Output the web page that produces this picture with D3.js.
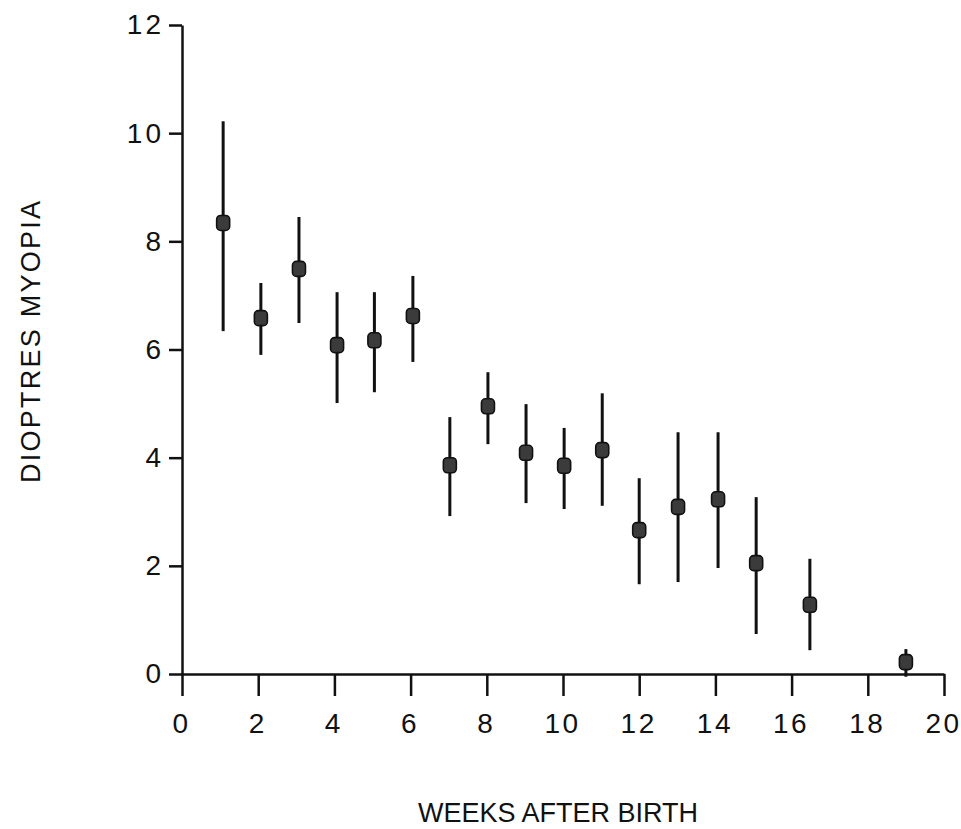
<!DOCTYPE html>
<html>
<head>
<meta charset="utf-8">
<script src="https://cdn.jsdelivr.net/npm/d3@7"></script>
<style>
  html, body { margin: 0; padding: 0; background: #fff; }
  svg { display: block; }
  .tick text { font-family: "Liberation Sans", Arial, Helvetica, sans-serif; fill: #111; }
</style>
</head>
<body>
<svg id="chart" width="961" height="829"></svg>
<script>
// Weeks after birth for each measurement
const weeks = [1.08, 2.07, 3.07, 4.07, 5.05, 6.06, 7.03, 8.03, 9.03, 10.03, 11.03, 12.0, 13.02, 14.07, 15.07, 16.48, 19.0];
// Mean dioptres of myopia
const means = [8.34, 6.58, 7.49, 6.08, 6.17, 6.62, 3.86, 4.95, 4.09, 3.85, 4.14, 2.66, 3.09, 3.23, 2.05, 1.28, 0.22];
// Upper and lower ends of the error bars
const upper = [10.22, 7.23, 8.45, 7.06, 7.06, 7.36, 4.75, 5.58, 4.99, 4.55, 5.19, 3.62, 4.47, 4.47, 3.27, 2.13, 0.46];
const lower = [6.34, 5.90, 6.49, 5.01, 5.21, 5.77, 2.92, 4.25, 3.16, 3.05, 3.11, 1.66, 1.70, 1.96, 0.74, 0.44, -0.05];
// Axis ticks
const xTicks = [0, 2, 4, 6, 8, 10, 12, 14, 16, 18, 20];
const yTicks = [0, 2, 4, 6, 8, 10, 12];

const svg = d3.select("#chart");
const ink = "#111";

const x = d3.scaleLinear().domain([0, 20]).range([182, 944]);
const y = d3.scaleLinear().domain([0, 12]).range([674, 25]);

// Y axis
const yAxis = svg.append("g")
  .attr("transform", `translate(${x(0)},0)`)
  .call(d3.axisLeft(y).tickValues(yTicks).tickSize(13).tickSizeOuter(0).tickPadding(5));
yAxis.selectAll("text").style("font-size", "28px").style("letter-spacing", "3px");

// X axis
const xAxis = svg.append("g")
  .attr("transform", `translate(0,${y(0)})`)
  .call(d3.axisBottom(x).tickValues(xTicks).tickSize(22).tickSizeOuter(0).tickPadding(17));
xAxis.selectAll("text").style("font-size", "28px").style("letter-spacing", "2.5px").attr("dx", "-1px");

svg.selectAll(".domain, .tick line").attr("stroke", ink).attr("stroke-width", 2.5);

// Error bars
const rows = weeks.map((w, i) => ({ w, m: means[i], hi: upper[i], lo: lower[i] }));
svg.append("g").selectAll("line").data(rows).join("line")
  .attr("x1", d => x(d.w)).attr("x2", d => x(d.w))
  .attr("y1", d => y(d.hi)).attr("y2", d => y(d.lo))
  .attr("stroke", ink).attr("stroke-width", 3);

// Mean markers
svg.append("g").selectAll("rect").data(rows).join("rect")
  .attr("x", d => x(d.w) - 6.5).attr("y", d => y(d.m) - 7.5)
  .attr("width", 13).attr("height", 15).attr("rx", 4).attr("ry", 4)
  .attr("fill", "#3b3b3b").attr("stroke", ink).attr("stroke-width", 1.6);

// Axis titles
svg.append("text")
  .attr("x", 558).attr("y", 822)
  .attr("text-anchor", "middle")
  .style("font-family", "'Liberation Sans', Arial, Helvetica, sans-serif")
  .style("font-size", "27px").attr("fill", ink)
  .text("WEEKS AFTER BIRTH");

svg.append("text")
  .attr("transform", "translate(40,342) rotate(-90)")
  .attr("text-anchor", "middle")
  .attr("textLength", 282).attr("lengthAdjust", "spacing")
  .style("font-family", "'Liberation Sans', Arial, Helvetica, sans-serif")
  .style("font-size", "27px").attr("fill", ink)
  .text("DIOPTRES MYOPIA");
</script>
</body>
</html>
